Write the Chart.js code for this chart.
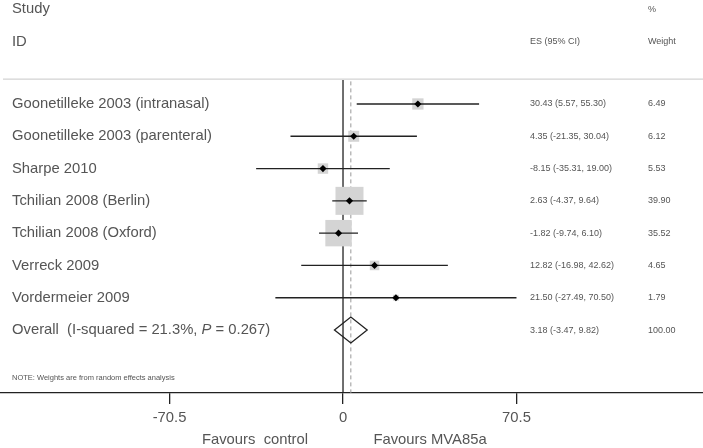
<!DOCTYPE html>
<html>
<head>
<meta charset="utf-8">
<script src="https://cdn.jsdelivr.net/npm/chart.js@4.4.1/dist/chart.umd.min.js"></script>
<style>
  html, body { margin: 0; padding: 0; background: #fff; }
  #wrap { width: 703px; height: 448px; }
</style>
</head>
<body>
<div id="wrap"><canvas id="forest" width="703" height="448"></canvas></div>
<script>
const studies = [
  "Goonetilleke 2003 (intranasal)",
  "Goonetilleke 2003 (parenteral)",
  "Sharpe 2010",
  "Tchilian 2008 (Berlin)",
  "Tchilian 2008 (Oxford)",
  "Verreck 2009",
  "Vordermeier 2009",
];
const es = [30.43, 4.35, -8.15, 2.63, -1.82, 12.82, 21.5];
const ciLow = [5.57, -21.35, -35.31, -4.37, -9.74, -16.98, -27.49];
const ciHigh = [55.3, 30.04, 19.0, 9.64, 6.1, 42.62, 70.5];
const weights = [6.49, 6.12, 5.53, 39.9, 35.52, 4.65, 1.79];
const overallEs = 3.18;
const overallLow = -3.47;
const overallHigh = 9.82;
const overallLabel = "Overall  (I-squared = 21.3%, ";
const xTicks = [-70.5, 0, 70.5];

const textColor = "#555";
const font = "Liberation Sans, Arial, sans-serif";
const overallRow = studies.length;

// boxes: area proportional to weight, largest side ~28px
const maxW = Math.max(...weights);
const boxRadius = weights.map((w) => (28 * Math.sqrt(w / maxW)) / Math.SQRT2);

const fmt = (v) => v.toFixed(2);

const forestPlugin = {
  id: "forest",
  beforeDatasetsDraw(chart) {
    const { ctx, scales: { x, y } } = chart;
    ctx.save();
    // header separator
    ctx.strokeStyle = "#c8c8c8";
    ctx.lineWidth = 1;
    ctx.beginPath();
    ctx.moveTo(3, y.getPixelForValue(-0.77));
    ctx.lineTo(703, y.getPixelForValue(-0.77));
    ctx.stroke();
    // null line
    ctx.strokeStyle = "#222";
    ctx.lineWidth = 1.3;
    ctx.beginPath();
    ctx.moveTo(x.getPixelForValue(0), y.getPixelForValue(-0.74));
    ctx.lineTo(x.getPixelForValue(0), y.bottom);
    ctx.stroke();
    // overall effect dashed line
    ctx.strokeStyle = "#999";
    ctx.lineWidth = 1;
    ctx.setLineDash([4, 3]);
    ctx.beginPath();
    ctx.moveTo(x.getPixelForValue(overallEs), y.getPixelForValue(-0.7));
    ctx.lineTo(x.getPixelForValue(overallEs), y.bottom);
    ctx.stroke();
    ctx.restore();
  },
  afterDatasetDraw(chart, args) {
    if (args.index !== 1) return;
    const { ctx, scales: { x, y } } = chart;
    ctx.save();
    ctx.strokeStyle = "#222";
    ctx.lineWidth = 1.3;
    studies.forEach((s, i) => {
      const py = y.getPixelForValue(i);
      ctx.beginPath();
      ctx.moveTo(x.getPixelForValue(ciLow[i]), py);
      ctx.lineTo(x.getPixelForValue(ciHigh[i]), py);
      ctx.stroke();
    });
    // overall diamond
    const py = y.getPixelForValue(overallRow);
    const half = y.getPixelForValue(overallRow + 0.4) - py;
    ctx.beginPath();
    ctx.moveTo(x.getPixelForValue(overallLow), py);
    ctx.lineTo(x.getPixelForValue(overallEs), py - half);
    ctx.lineTo(x.getPixelForValue(overallHigh), py);
    ctx.lineTo(x.getPixelForValue(overallEs), py + half);
    ctx.closePath();
    ctx.stroke();
    ctx.restore();
  },
  afterDraw(chart) {
    const { ctx, scales: { y } } = chart;
    ctx.save();
    ctx.fillStyle = textColor;
    ctx.textBaseline = "middle";
    ctx.textAlign = "left";
    ctx.font = `14.8px ${font}`;
    ctx.fillText("Study", 12, y.getPixelForValue(-2.94));
    ctx.fillText("ID", 12, y.getPixelForValue(-1.92));
    studies.forEach((s, i) => ctx.fillText(s, 12, y.getPixelForValue(i)));
    // overall label with italic P
    const oy = y.getPixelForValue(overallRow);
    ctx.fillText(overallLabel, 12, oy);
    let px = 12 + ctx.measureText(overallLabel).width;
    ctx.font = `italic 14.8px ${font}`;
    ctx.fillText("P", px, oy);
    px += ctx.measureText("P").width;
    ctx.font = `14.8px ${font}`;
    ctx.fillText(" = 0.267)", px, oy);

    ctx.font = `9px ${font}`;
    ctx.fillText("%", 648, y.getPixelForValue(-2.94));
    ctx.fillText("ES (95% CI)", 530, y.getPixelForValue(-1.92));
    ctx.fillText("Weight", 648, y.getPixelForValue(-1.92));
    studies.forEach((s, i) => {
      const py = y.getPixelForValue(i);
      ctx.fillText(`${fmt(es[i])} (${fmt(ciLow[i])}, ${fmt(ciHigh[i])})`, 530, py);
      ctx.fillText(fmt(weights[i]), 648, py);
    });
    ctx.fillText(`${fmt(overallEs)} (${fmt(overallLow)}, ${fmt(overallHigh)})`, 530, oy);
    ctx.fillText("100.00", 648, oy);

    ctx.font = `7.5px ${font}`;
    ctx.fillText("NOTE: Weights are from random effects analysis", 12, y.getPixelForValue(8.49));

    ctx.font = `14.8px ${font}`;
    ctx.textAlign = "center";
    ctx.fillText("Favours  control", 255, 440);
    ctx.fillText("Favours MVA85a", 430, 440);
    ctx.restore();
  },
};

new Chart(document.getElementById("forest"), {
  type: "scatter",
  data: {
    datasets: [
      {
        label: "ES",
        data: es.map((v, i) => ({ x: v, y: i })),
        pointStyle: "rectRot",
        pointRadius: 3.6,
        backgroundColor: "#000",
        borderColor: "#000",
        borderWidth: 0,
      },
      {
        label: "Weight",
        data: es.map((v, i) => ({ x: v, y: i })),
        pointStyle: "rect",
        pointRadius: boxRadius,
        backgroundColor: "#d4d4d4",
        borderWidth: 0,
      },
    ],
  },
  options: {
    responsive: false,
    animation: false,
    events: [],
    layout: { padding: 0, autoPadding: false },
    plugins: { legend: { display: false }, tooltip: { enabled: false } },
    scales: {
      x: {
        type: "linear",
        min: -139.4,
        max: 146.3,
        afterBuildTicks: (scale) => {
          scale.ticks = xTicks.map((v) => ({ value: v }));
        },
        afterFit: (scale) => {
          scale.height = 55;
        },
        grid: {
          drawOnChartArea: false,
          drawTicks: true,
          tickLength: 11,
          color: "#222",
          lineWidth: 1.3,
        },
        border: { display: true, color: "#222", width: 1.3 },
        ticks: {
          color: textColor,
          font: { family: font, size: 14.8 },
          padding: 5,
          maxRotation: 0,
          callback: (v) => String(v),
        },
      },
      y: {
        type: "linear",
        display: false,
        reverse: true,
        min: -3.22,
        max: 8.95,
      },
    },
  },
  plugins: [forestPlugin],
});
</script>
</body>
</html>
